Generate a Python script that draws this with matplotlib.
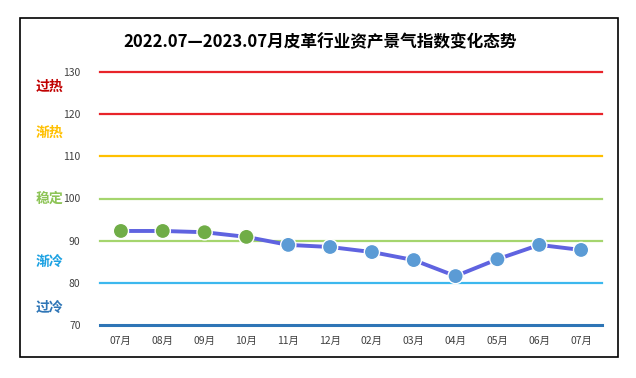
import matplotlib.pyplot as plt
from matplotlib.patches import Rectangle

plt.rcParams['font.family'] = ['Noto Sans CJK SC', 'DejaVu Sans']

months = ['07月', '08月', '09月', '10月', '11月', '12月', '02月', '03月', '04月', '05月', '06月', '07月']
index_values = [92.3, 92.3, 92.0, 90.9, 89.0, 88.5, 87.3, 85.4, 81.6, 85.6, 89.0, 87.8]
marker_colors = ['#70AD47'] * 4 + ['#5B9BD5'] * 8

# 区间线和标签
level_lines = [130, 120, 110, 100, 90, 80, 70]
level_colors = ['#E8242A', '#E8242A', '#FFC000', '#A5D56E', '#A5D56E', '#3CB8EE', '#2E75B6']
zone_names = ['过热', '渐热', '稳定', '渐冷', '过冷']
zone_pos = [126.5, 115.5, 100, 85, 74]
zone_colors = ['#C00000', '#FFC000', '#8DC456', '#1BA1E2', '#2E75B6']

fig = plt.figure(figsize=(6.36, 3.78), dpi=100)
fig.patches.append(Rectangle((20 / 636, 1 - 357 / 378), 598 / 636, 339 / 378,
                             transform=fig.transFigure, fill=False,
                             edgecolor='black', linewidth=1.2))
ax = fig.add_axes([100 / 636, 1 - 325 / 378, 502 / 636, 253 / 378])

for y, c in zip(level_lines, level_colors):
    ax.axhline(y, color=c, linewidth=2.2 if y == 70 else 1.6, zorder=1, clip_on=False)

x = range(len(months))
ax.plot(x, index_values, color='#5F63E0', linewidth=2.8, zorder=2)
ax.scatter(x, index_values, s=120, c=marker_colors, edgecolors='white',
           linewidths=1, zorder=3)

ax.set_xlim(-0.5, len(months) - 0.5)
ax.set_ylim(70, 130)
ax.set_yticks(level_lines)
ax.set_xticks(list(x))
ax.set_xticklabels(months)
ax.tick_params(length=0, labelsize=7.5, colors='#404040')
ax.tick_params(axis='y', pad=14)
ax.tick_params(axis='x', pad=8)
for s in ax.spines.values():
    s.set_visible(False)

for name, y, c in zip(zone_names, zone_pos, zone_colors):
    ax.text(-0.1, y, name, transform=ax.get_yaxis_transform(), ha='center',
            va='center', fontsize=10, fontweight='bold', color=c)

fig.text(320 / 636, 1 - 42 / 378, '2022.07—2023.07月皮革行业资产景气指数变化态势',
         ha='center', va='center', fontsize=12, fontweight='bold')

fig.savefig('out.png', dpi=100)
